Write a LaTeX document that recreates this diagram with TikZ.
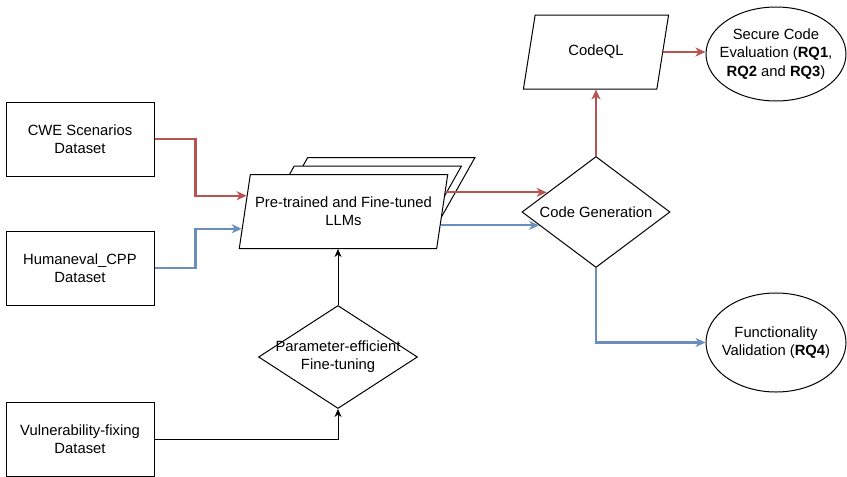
\documentclass[tikz,border=0pt]{standalone}
\usepackage{fontspec}
\setmainfont{Liberation Sans}
\usetikzlibrary{shapes.geometric,arrows.meta,calc}
\definecolor{myred}{HTML}{B85450}
\definecolor{myblue}{HTML}{6C8EBF}
\begin{document}
\begin{tikzpicture}[x=1pt,y=-1pt,
  font=\fontsize{14.8}{18.2}\selectfont,
  box/.style={draw, line width=1pt, minimum width=148pt, minimum height=74pt, align=center, inner sep=0pt},
  para/.style={trapezium, draw, line width=1pt, fill=white, trapezium left angle=72, trapezium right angle=108, trapezium stretches=true, minimum height=74pt, inner sep=2pt, align=center},
  dia/.style={diamond, draw, line width=1pt, fill=white, inner sep=2pt},
  ell/.style={ellipse, draw, line width=1pt, minimum width=140pt, inner sep=2pt},
  txt/.style={align=center, inner sep=0pt},
  redarr/.style={draw=myred, line width=2.2pt, -{Stealth[length=10pt,width=9pt,inset=3pt]}},
  bluearr/.style={draw=myblue, line width=2.2pt, -{Stealth[length=10pt,width=9pt,inset=3pt]}},
  blkarr/.style={draw=black, line width=1pt, -{Stealth[length=8pt,width=7pt,inset=2.5pt]}}
]
\useasboundingbox (0,0) rectangle (847,477);

% datasets
\node[box] (cwe) at (80,139) {CWE Scenarios\\Dataset};
\node[box] (hum) at (80,268) {Humaneval\_CPP\\Dataset};
\node[box] (vf) at (80,439.5) {Vulnerability-fixing\\Dataset};

% LLM stack
\node[para, minimum width=209pt] (llm3) at (370.5,194.5) {\phantom{X}};
\node[para, minimum width=209pt] (llm2) at (357,203) {\phantom{X}};
\node[para, minimum width=209pt] (llm) at (343.5,211.5) {Pre-trained and Fine-tuned\\LLMs};

% parameter-efficient fine-tuning
\node[dia, minimum width=159pt, minimum height=103pt] (pe) at (338,357) {\phantom{X}};
\node[txt] (pet) at (pe) {Parameter-efficient\\Fine-tuning};

% code generation
\node[dia, minimum width=148pt, minimum height=111pt] (cg) at (596,212) {\phantom{X}};
\node[txt] (cgt) at (cg) {Code Generation};

% CodeQL
\node[para, minimum width=146pt] (cq) at (596,52) {CodeQL};

% outcomes
\node[ell, minimum height=94pt] (sec) at (776,54) {\phantom{X}};
\node[txt] (sect) at (sec) {Secure Code\\Evaluation (\textbf{RQ1},\\\textbf{RQ2} and \textbf{RQ3})};
\node[ell, minimum height=99pt] (fv) at (776,342.5) {\phantom{X}};
\node[txt] (fvt) at (fv) {Functionality\\Validation (\textbf{RQ4})};

% connector points
\coordinate (rin) at ($(llm.top left corner)!0.29!(llm.bottom left corner)$);
\coordinate (bin) at ($(llm.top left corner)!0.73!(llm.bottom left corner)$);
\coordinate (rout) at ($(llm.top right corner)!0.245!(llm.bottom right corner)$);
\coordinate (bout) at ($(llm.top right corner)!0.685!(llm.bottom right corner)$);

% connectors
\draw[redarr] (cwe.east) -- ++(41,0) |- (rin);
\draw[bluearr] (hum.east) -- ++(41,0) |- (bin);
\draw[redarr] (rout) -- (rout -| cg.159);
\draw[bluearr] (bout) -- (bout -| cg.193);
\draw[redarr] (cg.north) -- (cg.north |- cq.south);
\draw[redarr] (cq.east) -- (cq.east -| sec.west);
\draw[bluearr] (cg.south) |- (fv.west);
\draw[blkarr] (vf.east) -| (pe.south);
\draw[blkarr] (pe.north) -- (pe.north |- llm.bottom left corner);
\end{tikzpicture}
\end{document}
